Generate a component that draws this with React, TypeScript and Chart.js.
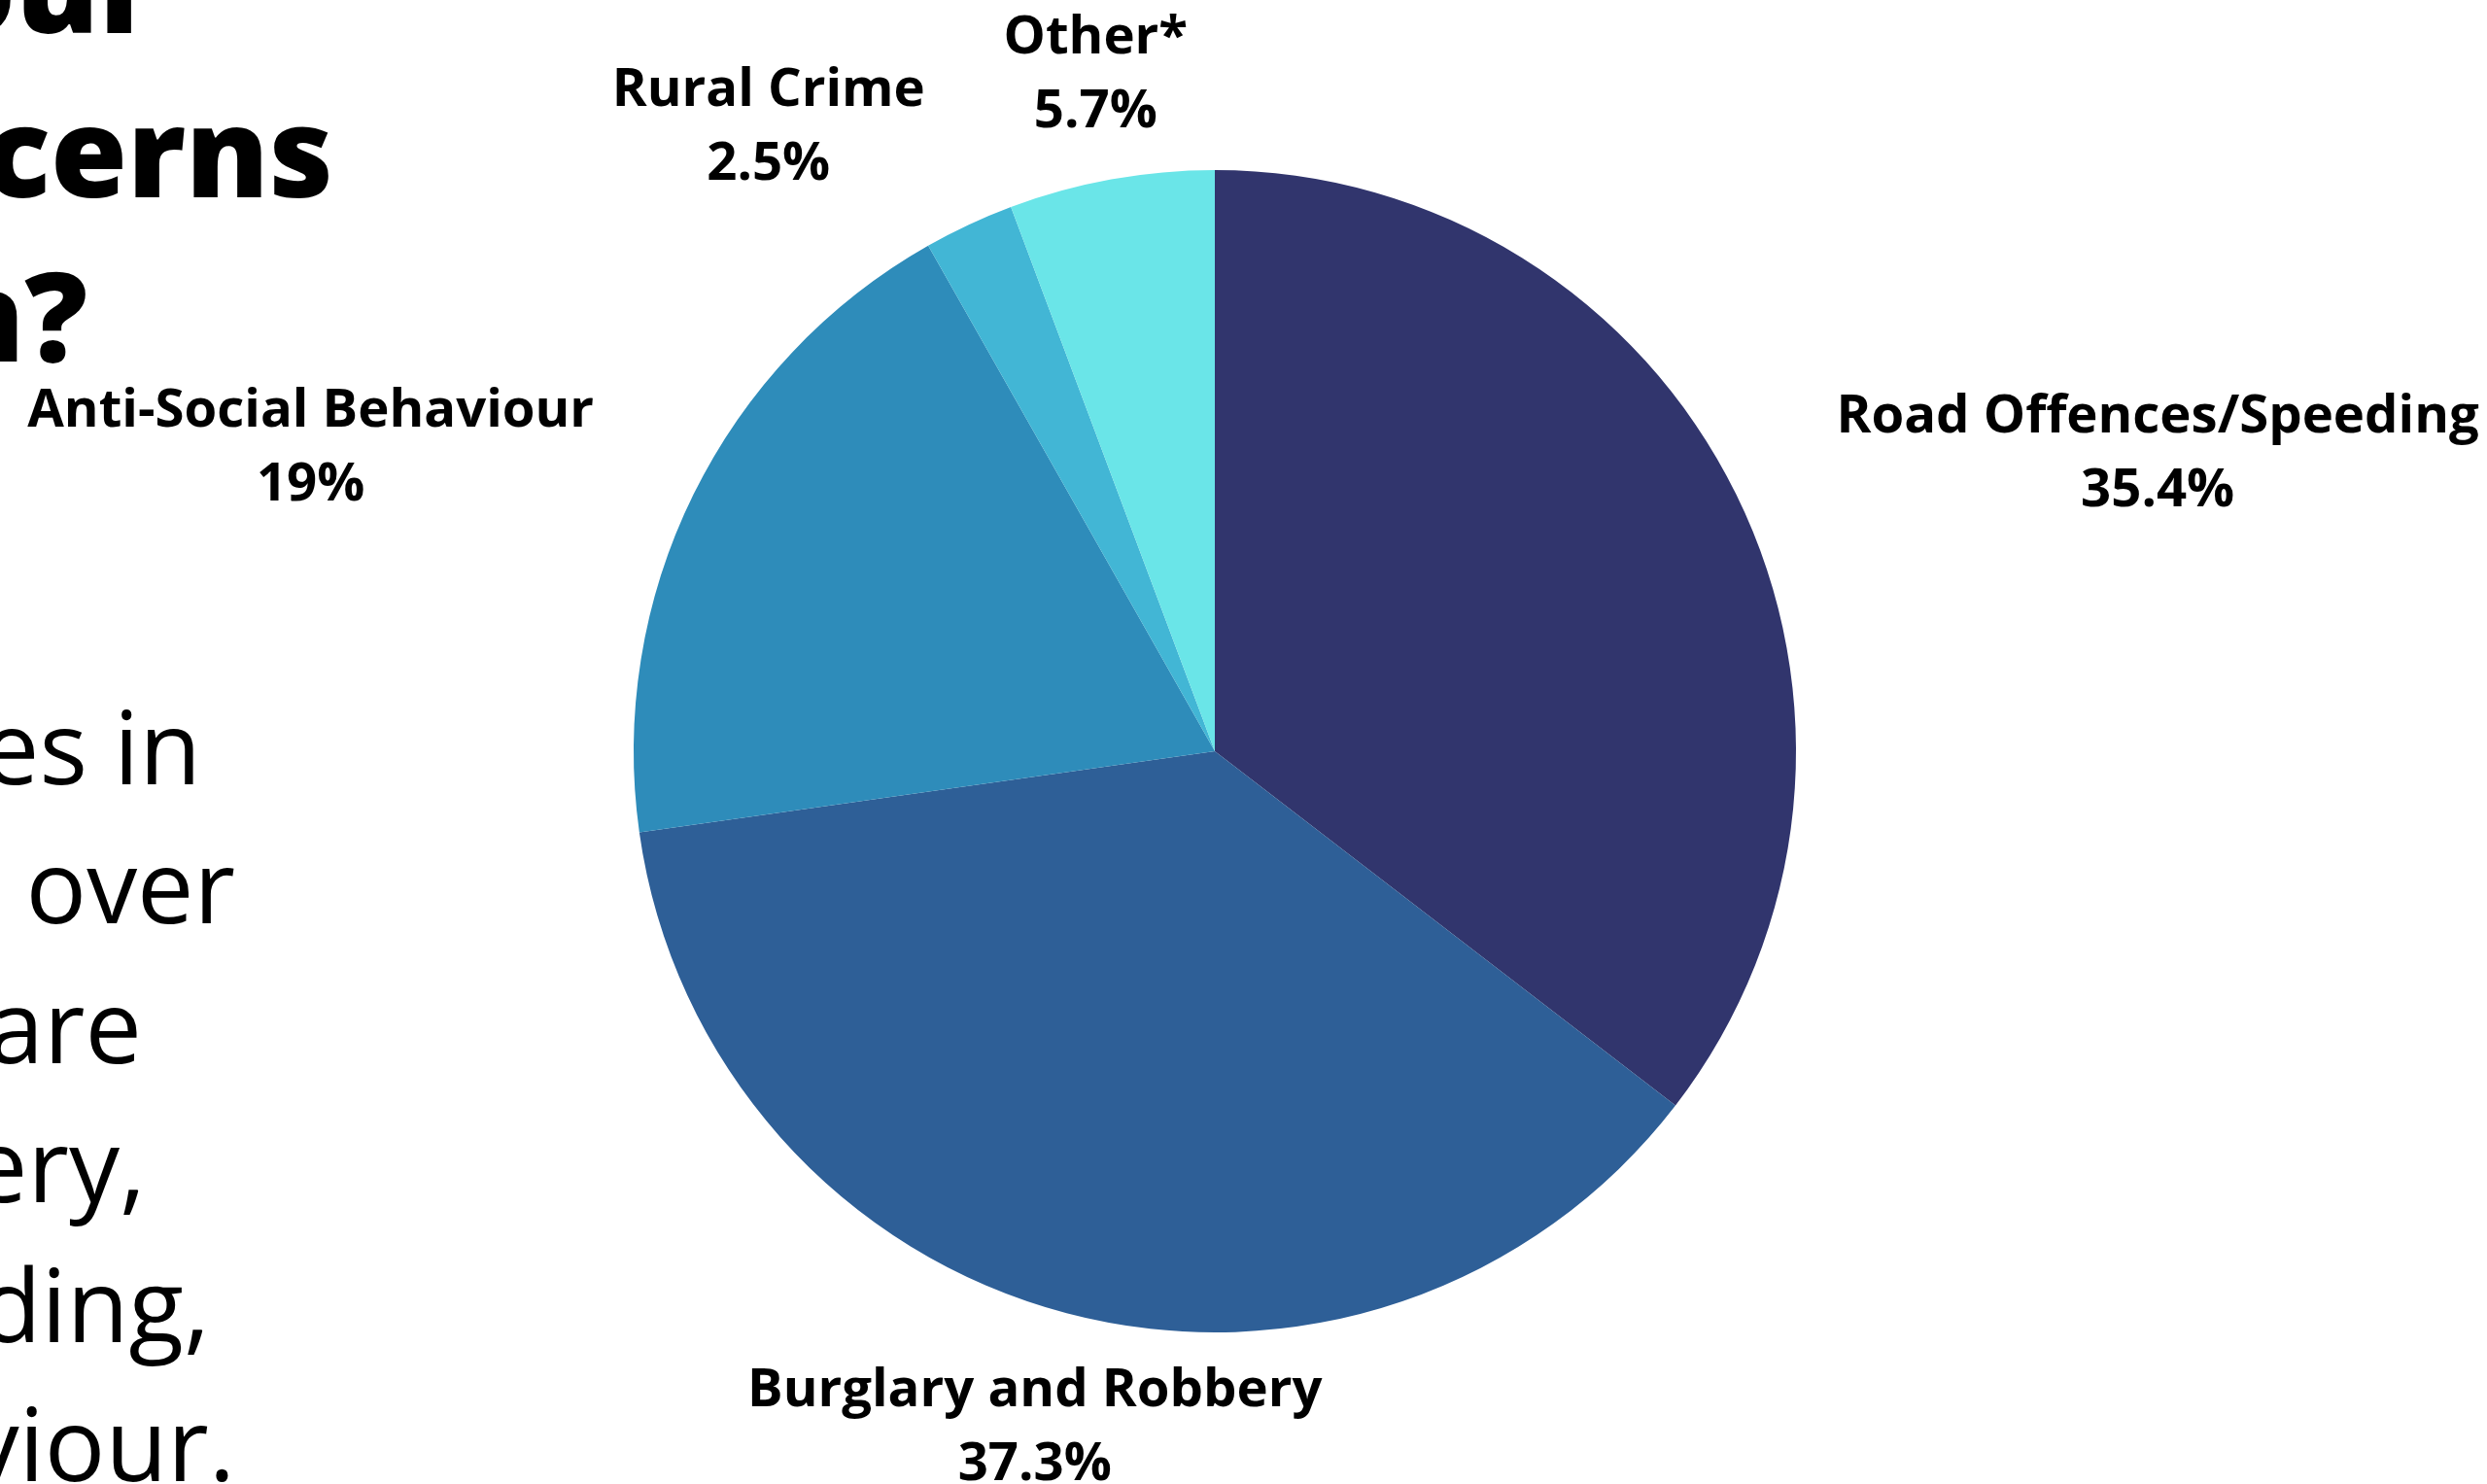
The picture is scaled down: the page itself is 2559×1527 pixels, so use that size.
import React, { useEffect, useRef } from "react";
import { Chart, registerables } from "chart.js";

Chart.register(...registerables);

// ---- data ----
const categories = [
  "Road Offences/Speeding",
  "Burglary and Robbery",
  "Anti-Social Behaviour",
  "Rural Crime",
  "Other*",
];
const shares = [35.4, 37.3, 19, 2.5, 5.7];
const shareLabels = ["35.4%", "37.3%", "19%", "2.5%", "5.7%"];
const sliceColors = ["#31356D", "#2E5F97", "#2E8CBA", "#42B6D5", "#6AE5E8"];

// visible fragments of the (cropped) side text
const titleFragments = ["our", "cerns", "n?"];
const bodyFragments = ["es in", "over", "are", "ery,", "ding,", "viour."];

// ---- layout (not data) ----
const W = 2559;
const H = 1527;
const labelAngleShiftDeg = [8.4, 0.25, -7.36, -10.29, 0.35];
const labelDistanceFactor = [1.704, 1.195, 1.644, 1.328, 1.191];
const titleRight = [162, 343, 90];
const titleBaseline = [35, 204, 373];
const titleSize = 128;
const bodyRight = [207, 242, 146, 150, 216, 242];
const bodyBaseline0 = 807;
const bodyLineStep = 143.5;
const bodySize = 104;

const labelPlugin = {
  id: "outerLabels",
  afterDatasetsDraw(chart: any) {
    const ctx = chart.ctx;
    const meta = chart.getDatasetMeta(0);
    ctx.save();
    ctx.fillStyle = "#000000";
    ctx.textAlign = "center";
    ctx.textBaseline = "alphabetic";
    ctx.font = '700 54.5px "Open Sans"';
    meta.data.forEach((arc: any, i: number) => {
      const p = arc.getProps(["x", "y", "startAngle", "endAngle", "outerRadius"], true);
      const mid = (p.startAngle + p.endAngle) / 2 + (labelAngleShiftDeg[i] * Math.PI) / 180;
      const d = p.outerRadius * labelDistanceFactor[i];
      const cx = p.x + Math.cos(mid) * d;
      const cy = p.y + Math.sin(mid) * d;
      ctx.fillText(categories[i], cx, cy - 16);
      ctx.fillText(shareLabels[i], cx, cy + 60);
    });
    ctx.restore();
  },
};

function SideText() {
  const title = titleFragments.map((t, i) => (
    <div
      key={"t" + i}
      style={{
        position: "absolute",
        right: W - titleRight[i],
        top: titleBaseline[i] - 0.888 * titleSize,
        fontFamily: '"Open Sans", sans-serif',
        fontWeight: 800,
        fontSize: titleSize,
        lineHeight: 1,
        whiteSpace: "pre",
        color: "#000",
      }}
    >
      {t}
    </div>
  ));
  const body = bodyFragments.map((t, i) => (
    <div
      key={"b" + i}
      style={{
        position: "absolute",
        right: W - bodyRight[i],
        top: bodyBaseline0 + i * bodyLineStep - 0.888 * bodySize,
        fontFamily: '"Open Sans", sans-serif',
        fontWeight: 400,
        fontSize: bodySize,
        lineHeight: 1,
        whiteSpace: "pre",
        color: "#000",
      }}
    >
      {t}
    </div>
  ));
  return (
    <>
      {title}
      {body}
    </>
  );
}

export default function App() {
  const canvasRef = useRef<HTMLCanvasElement | null>(null);

  useEffect(() => {
    if (!canvasRef.current) return;
    const chart = new Chart(canvasRef.current, {
      type: "pie",
      data: {
        labels: categories,
        datasets: [
          {
            data: shares,
            backgroundColor: sliceColors,
            borderWidth: 0,
            hoverOffset: 0,
            offset: 0,
          },
        ],
      },
      options: {
        responsive: false,
        animation: false,
        events: [],
        layout: { padding: { left: 652, right: 711, top: 175, bottom: 156 } },
        plugins: {
          legend: { display: false },
          tooltip: { enabled: false },
        },
      },
      plugins: [labelPlugin],
    });
    return () => chart.destroy();
  }, []);

  return (
    <div
      style={{
        position: "absolute",
        left: 0,
        top: 0,
        width: W,
        height: H,
        overflow: "hidden",
        background: "#ffffff",
      }}
    >
      <SideText />
      <canvas
        ref={canvasRef}
        width={W}
        height={H}
        style={{ position: "absolute", left: 0, top: 0, width: W, height: H }}
      />
    </div>
  );
}
